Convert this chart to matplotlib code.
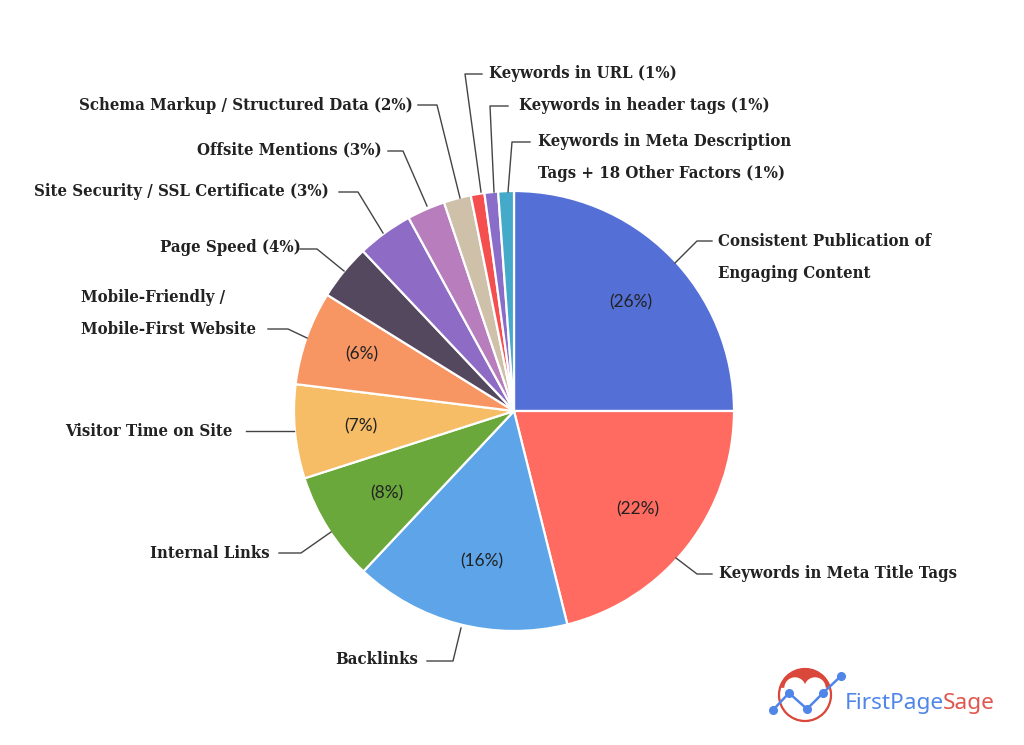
import matplotlib
matplotlib.use("Agg")
import matplotlib.pyplot as plt
from matplotlib.patches import Circle, Rectangle

# drawn wedge sizes (the picture's slices are not exactly their printed %)
slice_sizes = [25, 21.1, 15.9, 8.05, 6.9, 6.9, 4.1, 4.1, 2.8, 2, 1, 1, 1.15]
slice_colors = ['#5470D6', '#FF6B61', '#5DA5E8', '#6BA83B', '#F6BC66', '#F79563', '#54485E',
                '#8E6BC4', '#B87DBC', '#CFC0AA', '#F54E4E', '#8A6CC9', '#45A9C9']

pct_labels = ['(26%)', '(22%)', '(16%)', '(8%)', '(7%)', '(6%)']
pct_pos = [(631, 302), (638, 509), (482, 561), (387, 493), (361, 426), (362, 354)]

# text, left x, y
slice_labels = [
    ('Consistent Publication of', 718, 241),
    ('Engaging Content', 718, 273),
    ('Keywords in Meta Title Tags', 719, 573),
    ('Backlinks', 335, 660),
    ('Internal Links', 150, 553),
    ('Visitor Time on Site', 65, 431),
    ('Mobile-Friendly /', 81, 298),
    ('Mobile-First Website', 81, 329),
    ('Page Speed (4%)', 160, 248),
    ('Site Security / SSL Certificate (3%)', 34, 191),
    ('Offsite Mentions (3%)', 197, 150),
    ('Schema Markup / Structured Data (2%)', 79, 105),
    ('Keywords in URL (1%)', 489, 73),
    ('Keywords in header tags (1%)', 519, 105),
    ('Keywords in Meta Description', 538, 141),
    ('Tags + 18 Other Factors (1%)', 538, 173),
]

leaders = [
    [(675, 263), (697, 241), (712, 241)],
    [(676, 558), (697, 574), (712, 574)],
    [(461, 628), (453, 661), (427, 661)],
    [(331, 532), (301, 553), (279, 553)],
    [(294, 431), (246, 431)],
    [(307, 338), (288, 329), (268, 329)],
    [(344, 271), (317, 249), (300, 249)],
    [(383, 233), (358, 192), (339, 192)],
    [(427, 206), (403, 151), (388, 151)],
    [(460, 198), (437, 105), (418, 105)],
    [(481, 192), (465, 74), (482, 74)],
    [(494, 192), (490, 106), (508, 106)],
    [(508, 192), (512, 142), (530, 142)],
]

fig = plt.figure(figsize=(10.24, 7.45), dpi=100, facecolor='white')
ax = fig.add_axes([0, 0, 1, 1])

# y axis is flipped so the axes work in image pixels: the slices run clockwise from the top
ax.pie(slice_sizes, colors=slice_colors, center=(514, 411), radius=220, startangle=-90,
       wedgeprops={'edgecolor': 'white', 'linewidth': 1.6})
ax.set_xlim(0, 1024)
ax.set_ylim(745, 0)
ax.set_aspect('equal')
ax.axis('off')

for label, (x, y) in zip(pct_labels, pct_pos):
    ax.text(x, y, label, ha='center', va='center', fontsize=12.5, family='Lato', color='#222222')

for label, x, y in slice_labels:
    ax.text(x, y, label, ha='left', va='center', fontsize=12, family='DejaVu Serif',
            weight='bold', stretch='condensed', color='#222222')

for pts in leaders:
    ax.plot([p[0] for p in pts], [p[1] for p in pts], color='#444444', lw=1)

# logo: red cap inside a ring, with a heart cut out of the bottom of the cap
cap = Circle((805, 695), 26, color='#D9483B', zorder=3)
ax.add_patch(cap)
cutouts = [Rectangle((775, 688), 60, 40, color='white', zorder=3),
           Circle((795, 688), 10, color='white', zorder=3),
           Circle((815, 688), 10, color='white', zorder=3)]
for patch in cutouts:
    ax.add_patch(patch)
    patch.set_clip_path(cap)
ax.add_patch(Circle((805, 695), 26, fill=False, ec='#D9483B', lw=1.6, zorder=3))
ax.plot([773, 789, 807, 823, 841], [710, 693, 709, 693, 676], color='#4F86E8', lw=1.8,
        marker='o', ms=5.5, zorder=4)
ax.text(845, 703, 'FirstPage', ha='left', va='center', fontsize=16.3, family='Noto Sans', color='#4F86E8')
ax.text(943, 703, 'Sage', ha='left', va='center', fontsize=16.3, family='Noto Sans', color='#E0574E')

fig.savefig('out.png', dpi=100)
